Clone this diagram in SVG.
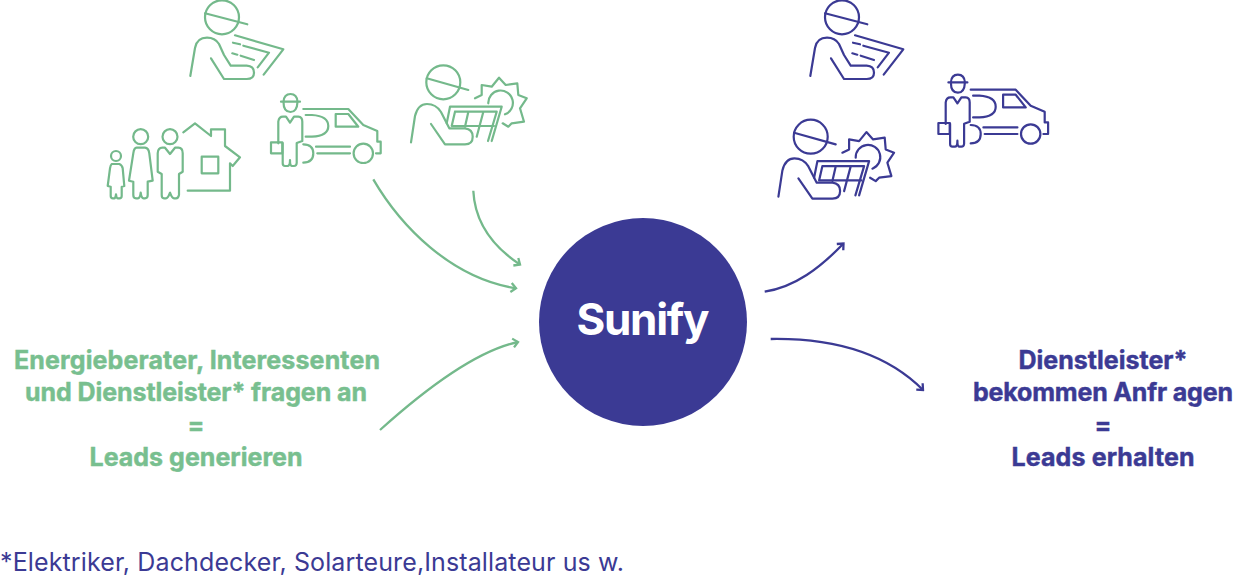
<svg xmlns="http://www.w3.org/2000/svg" xmlns:xlink="http://www.w3.org/1999/xlink" width="1233" height="577" viewBox="0 0 1233 577">
<style>
.ic{fill:none;stroke-width:2.2;stroke-linecap:round;stroke-linejoin:round}
.g{stroke:#74b98b}
.b{stroke:#3b3a94}
.c{fill:none;stroke-width:2.3}
.t{font-family:"Inter","Liberation Sans",sans-serif;font-weight:700;font-size:25px;text-anchor:middle;stroke-width:.45;lengthAdjust:spacing}
.tg{fill:#78bf8f;stroke:#78bf8f}
.tb{fill:#3b3a94;stroke:#3b3a94}
</style>
<defs>
<marker id="ag" viewBox="-8 -6 10 12" markerWidth="10" markerHeight="12" refX="0" refY="0" orient="auto" markerUnits="userSpaceOnUse"><path d="M-5-4.5L0 0L-5 4.5" fill="none" stroke="#74b98b" stroke-width="2.3"/></marker>
<marker id="ab" viewBox="-8 -6 10 12" markerWidth="10" markerHeight="12" refX="0" refY="0" orient="auto" markerUnits="userSpaceOnUse"><path d="M-5-4.5L0 0L-5 4.5" fill="none" stroke="#3b3a94" stroke-width="2.3"/></marker>
<g id="surveyor">
<circle cx="222" cy="17.3" r="17"/>
<path d="M205 13.3L247.3 24.3"/>
<path d="M190.3 76L195 48Q197 37.7 207 37.7Q215 37.7 219 44L224 55L230.7 65.7H246.7Q254 66 254 72.7Q254 79 246.7 79H224L211 58.3"/>
<path d="M235 35.3L283.3 49.3L263.7 74.7"/>
<path d="M233 42.7L240 44.3M243.3 45.7L269 52.7L257.7 67.3M232.3 53.3L237.3 54.7M240.7 55.7L254 60"/>
</g>
<g id="solar">
<circle cx="443.3" cy="82.3" r="17"/>
<path d="M426.7 78.3L468.3 90"/>
<path d="M411 142.3L415 116Q418 104 427 104Q436 104 441 112L449.3 128.3H465Q472.7 129 472.7 136.7Q472.7 144.3 465 144.3H445L431 124"/>
<path d="M446.7 123.3L450 106.7H501.7L491.7 141"/>
<path d="M455 111.7H496.7L488 141M455 111.7L451.7 126H494M468.3 112L465 126.7M483.3 112L476.7 136.7"/>
<path d="M475 98.3L481.7 95L481.7 85L491.7 86.7L499 77.7L505.7 85L517.3 83.3L518.3 95L526.7 98.3L520 108.3L524 121.7L511.7 123.3L508.3 126.7L502.7 123.3"/>
<path d="M488.3 103.3A12.3 12.3 0 1 1 505 114.3"/>
</g>
<g id="van">
<path d="M281 101.7H300M283.5 101.7Q284 94 290.5 94Q297 94 297.5 101.7M283.5 102Q283.5 112 290.5 112Q297 112 297.5 102"/>
<path d="M278.3 143.3V121.7Q279 116.7 283 116.7H286L290 122.7L294 116.7H298.3Q302.3 117 302.3 121.7V141L296.7 143V163Q296.5 166 294 166H292Q290 166 290 160Q290 166 287.5 166H285Q282.7 166 282.7 163.3V143"/>
<rect x="271" y="142.3" width="11.3" height="11"/>
<path d="M303.3 109H348.3L363.3 125L377.3 131V141.7H380.7V153.3H376"/>
<path d="M335.7 114H348.3L358.3 126.7H335.7Z"/>
<path d="M305.7 115H312Q328.3 116 328.3 126Q328.3 136 312 136.7H305.7"/>
<circle cx="363.3" cy="153.3" r="9.7"/>
<path d="M303.3 144.3Q313.3 144.5 313.3 153.3Q313.3 162.5 303.3 162.7"/>
<path d="M316 146.7H350M317.3 153.3H350"/>
</g>
</defs>
<g id="connectors">
<path class="c g" marker-end="url(#ag)" d="M373.3 179.3C400 225 450 278 516 288.3"/>
<path class="c g" marker-end="url(#ag)" d="M473.3 190.7C475 225 495 248 520 264.5"/>
<path class="c g" marker-end="url(#ag)" d="M380 430C430 385 480 350 518 342"/>
<path class="c b" marker-end="url(#ab)" d="M764.7 291.7C795 287 820 268 843.5 243.5"/>
<path class="c b" marker-end="url(#ab)" d="M770.7 339C830 338 885 352 923 390"/>
</g>
<g id="node-surveyor-green" class="ic g"><use xlink:href="#surveyor" href="#surveyor"/></g>
<g id="node-family" class="ic g">
<path d="M183.3 132.3L195 123.3L211 136V129.3H225V146L240 157.3L232.7 166L230 163.3V190.7H187.7"/>
<rect x="201.7" y="156.7" width="16.6" height="16.6"/>
<circle cx="170" cy="136.7" r="7.5"/>
<path d="M157.7 171.7V153.3Q158 147.7 162.3 147.7H165L170 154L175 147.7H178.3Q182.7 148 182.7 153.3V171.7L179 174V195Q178.3 198.3 176 198.3H174Q172 198.3 170 192.7Q168 198.3 166 198.3H164Q161.7 198.3 161.7 195V174Z"/>
<circle cx="140.7" cy="136.7" r="7.5"/>
<path d="M136.7 147.7H145Q148.5 148 149.3 153.3L152.7 180.7L147.7 181.7V195Q147.7 198.3 145 198.3H143.5Q141.5 198.3 140.7 192.7Q140 198.3 138 198.3H136Q133.3 198.3 133.3 195V181.7L129 180.7L133.3 153.3Q134 148 136.7 147.7Z"/>
<circle cx="116" cy="156" r="5"/>
<path d="M111.7 164H119.3Q122 165 122.7 168.3L124.3 186L121.7 186.7V196Q121.7 198.3 119.3 198.3H118Q116.5 198.3 116 194.3Q115.5 198.3 114.3 198.3H113Q110.7 198.3 110.7 196V186.7L107.7 186L110 168.3Q110.5 165 111.7 164Z"/>
</g>
<g id="node-van-green" class="ic g"><use xlink:href="#van" href="#van"/></g>
<g id="node-solar-green" class="ic g"><use xlink:href="#solar" href="#solar"/></g>
<g id="node-surveyor-blue" class="ic b"><use xlink:href="#surveyor" href="#surveyor" transform="translate(620 0)"/></g>
<g id="node-van-blue" class="ic b"><use xlink:href="#van" href="#van" transform="translate(667.4 -19.3)"/></g>
<g id="node-solar-blue" class="ic b"><use xlink:href="#solar" href="#solar" transform="translate(367.4 54.4)"/></g>
<g id="node-sunify">
<circle cx="643" cy="322" r="104" fill="#3b3a94"/>
<text x="643" y="335" font-family="Inter,'Liberation Sans',sans-serif" font-weight="700" font-size="44" text-anchor="middle" fill="#fff" textLength="133">Sunify</text>
</g>
<g id="node-label-left">
<text class="t tg" x="197" y="369" textLength="366">Energieberater, Interessenten</text>
<text class="t tg" x="196" y="401" textLength="342">und Dienstleister* fragen an</text>
<text class="t tg" x="196" y="434">=</text>
<text class="t tg" x="196" y="466" textLength="213">Leads generieren</text>
</g>
<g id="node-label-right">
<text class="t tb" x="1103" y="369" textLength="169">Dienstleister*</text>
<text class="t tb" x="1103" y="401" textLength="260">bekommen Anfr agen</text>
<text class="t tb" x="1103" y="434">=</text>
<text class="t tb" x="1103" y="466" textLength="183">Leads erhalten</text>
</g>
<text id="footnote" x="0" y="571" font-family="Inter,'Liberation Sans',sans-serif" font-size="25" fill="#3b3a94" textLength="624">*Elektriker, Dachdecker, Solarteure,Installateur us w.</text>
</svg>
